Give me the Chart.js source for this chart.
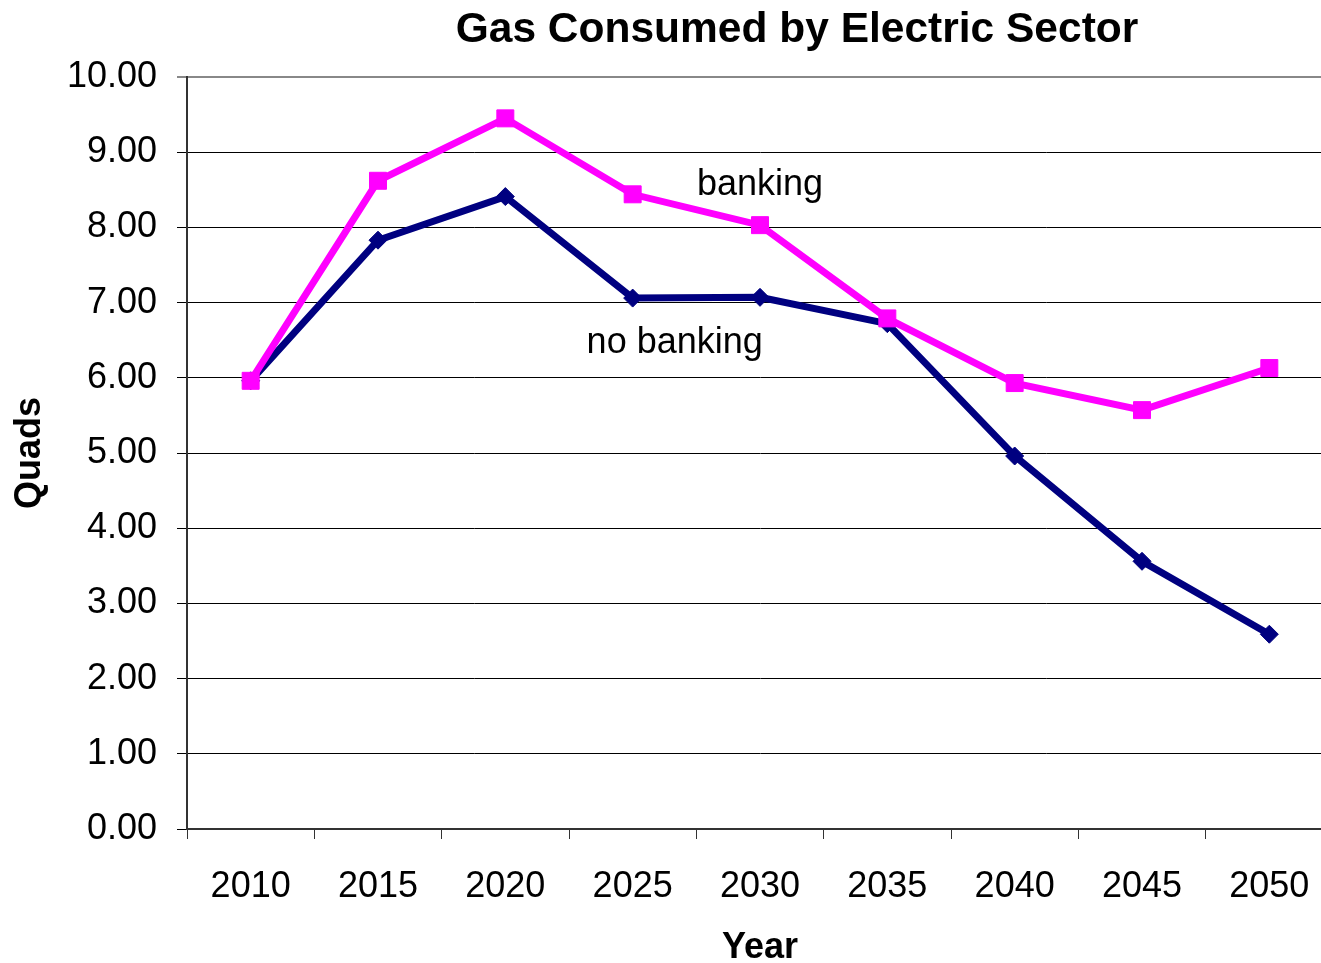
<!DOCTYPE html>
<html>
<head>
<meta charset="utf-8">
<title>Gas Consumed by Electric Sector</title>
<script src="https://cdn.jsdelivr.net/npm/chart.js@4"></script>
<style>
  html, body { margin: 0; padding: 0; background: #fff; overflow: hidden; }
  #wrap { width: 1346px; height: 963px; }
</style>
</head>
<body>
<div id="wrap"><canvas id="gas-chart" width="1346" height="963"></canvas></div>
<script>
// years on the category axis
const years = ['2010', '2015', '2020', '2025', '2030', '2035', '2040', '2045', '2050']
// quads of gas burned for power, by scenario
const banking = [5.96, 8.62, 9.45, 8.44, 8.03, 6.79, 5.93, 5.57, 6.13]
const noBanking = [5.96, 7.83, 8.41, 7.06, 7.07, 6.72, 4.96, 3.56, 2.59]
// y ticks
const yMin = 0, yMax = 10, yStep = 1

const FONT = "'Liberation Sans', Arial, sans-serif"

// series names written next to the lines: [text, category index, value at baseline]
const lineNotes = [
    ['banking', 4, 8.43],
    ['no banking', 3.33, 6.33]
]

// title is drawn by hand so it can sit a bit right of centre
const titlePlugin = {
    id: 'topTitle',
    afterDraw(chart) {
        const ctx = chart.ctx
        ctx.save()
        ctx.font = 'bold 42.5px ' + FONT
        ctx.fillStyle = '#000'
        ctx.textAlign = 'center'
        ctx.textBaseline = 'middle'
        ctx.fillText('Gas Consumed by Electric Sector', 797, 30)
        ctx.restore()
    }
}

const notesPlugin = {
    id: 'lineNotes',
    afterDatasetsDraw(chart) {
        const {ctx, scales: {x, y}} = chart
        const step = x.getPixelForValue(1) - x.getPixelForValue(0)
        ctx.save()
        ctx.font = '36px ' + FONT
        ctx.fillStyle = '#000'
        ctx.textAlign = 'center'
        ctx.textBaseline = 'alphabetic'
        lineNotes.forEach(n => {
            const px = x.getPixelForValue(0) + step * n[1]
            ctx.fillText(n[0], px, y.getPixelForValue(n[2]))
        })
        ctx.restore()
    }
}

new Chart(document.getElementById('gas-chart').getContext('2d'), {
    type: 'line',
    data: {
        labels: years,
        datasets: [{
            label: 'banking',
            data: banking,
            borderColor: '#FF00FF',
            backgroundColor: '#FF00FF',
            borderWidth: 7,
            pointStyle: 'rect',
            pointRadius: 12,
            pointBorderWidth: 1,
            pointBackgroundColor: '#FF00FF',
            pointBorderColor: '#FF00FF',
            tension: 0,
            fill: false
        }, {
            label: 'no banking',
            data: noBanking,
            borderColor: '#000080',
            backgroundColor: '#000080',
            borderWidth: 7,
            pointStyle: 'rectRot',
            pointRadius: 9,
            pointBorderWidth: 1,
            pointBackgroundColor: '#000080',
            pointBorderColor: '#000080',
            tension: 0,
            fill: false
        }]
    },
    options: {
        responsive: false,
        animation: false,
        layout: { padding: { top: 77, right: 0, bottom: 0, left: 0 } },
        plugins: {
            legend: { display: false },
            title: { display: false },
            tooltip: { enabled: false }
        },
        scales: {
            x: {
                offset: true,
                afterFit(scale) { scale.height = 134 },
                grid: {
                    offset: true,
                    drawOnChartArea: false,
                    drawTicks: true,
                    tickLength: 10,
                    color: '#333'
                },
                border: { color: '#333', width: 2 },
                ticks: {
                    color: '#000',
                    padding: 30,
                    maxRotation: 0,
                    font: { family: FONT, size: 36, lineHeight: 1 }
                },
                title: {
                    display: true,
                    text: 'Year',
                    color: '#000',
                    padding: { top: 0, bottom: -3 },
                    font: { family: FONT, size: 36, weight: 'bold', lineHeight: 1 }
                }
            },
            y: {
                min: yMin,
                max: yMax,
                afterFit(scale) { scale.width = 187 },
                grid: {
                    color: ctx => ctx.tick && ctx.tick.value === yMax ? '#888' : '#000',
                    lineWidth: ctx => ctx.tick && ctx.tick.value === yMax ? 2 : 1,
                    tickLength: 10
                },
                border: { color: '#333', width: 2 },
                ticks: {
                    stepSize: yStep,
                    color: '#000',
                    padding: 20,
                    font: { family: FONT, size: 36, lineHeight: 1 },
                    callback: v => Number(v).toFixed(2)
                },
                title: {
                    display: true,
                    text: 'Quads',
                    color: '#000',
                    padding: { top: 12, bottom: 0 },
                    font: { family: FONT, size: 36, weight: 'bold', lineHeight: 1 }
                }
            }
        }
    },
    plugins: [titlePlugin, notesPlugin]
})
</script>
</body>
</html>
